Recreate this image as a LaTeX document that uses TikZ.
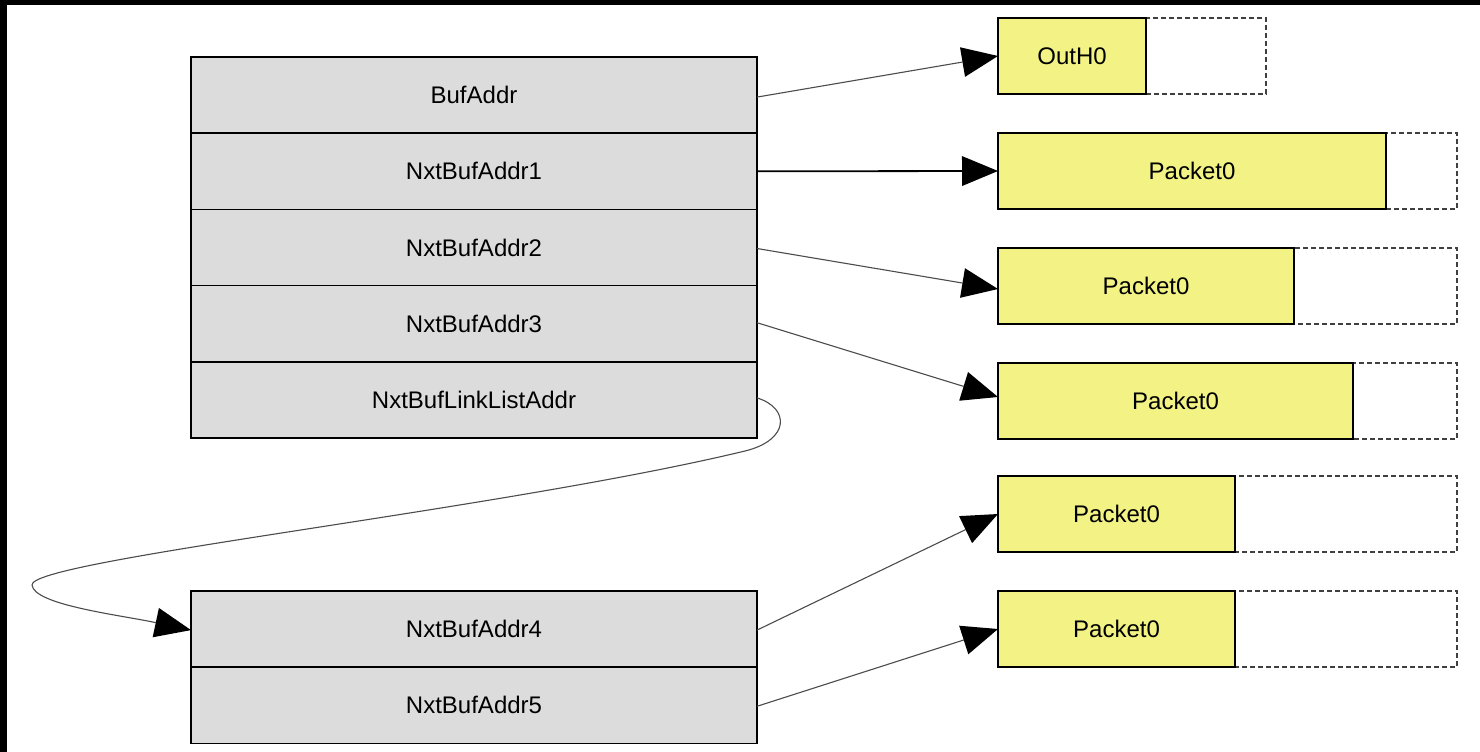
\documentclass[tikz,border=0pt]{standalone}
\usepackage{fontspec}
\setmainfont{Liberation Sans}
\usetikzlibrary{arrows.meta,positioning}
\definecolor{cellgray}{RGB}{220,220,220}
\definecolor{pktyellow}{RGB}{242,242,133}
\tikzset{
  cell/.style={draw=black, line width=1.6pt, fill=cellgray, minimum width=566pt,
    minimum height=76.2pt, inner sep=0pt, outer sep=0pt, anchor=north west,
    font=\fontsize{24}{28}\selectfont},
  pkt/.style={draw=black, line width=1.6pt, fill=pktyellow, minimum height=76pt,
    inner sep=0pt, outer sep=0pt, anchor=north west, font=\fontsize{24}{28}\selectfont},
  slack/.style={draw=black!75, line width=1.3pt, dash pattern=on 5pt off 3pt},
  headtip/.tip={Triangle[length=36pt,width=30pt,color=black,fill=black,line width=0pt]},
  ptr/.style={draw=black!70, line width=1.1pt, -headtip},
  ptrbold/.style={draw=black, line width=1.8pt, -headtip},
}
\begin{document}
\begin{tikzpicture}[x=1pt,y=-1pt]
% frame and page
\fill[black] (0,0) rectangle (1480,752);
\fill[white] (7,5) rectangle (1480,752);
\useasboundingbox (0,0) rectangle (1480,752);

% descriptor table
\node[cell] (buf)  at (191,57.0)  {BufAddr};
\node[cell] (nb1)  at (191,133.2) {NxtBufAddr1};
\node[cell] (nb2)  at (191,209.4) {NxtBufAddr2};
\node[cell] (nb3)  at (191,285.6) {NxtBufAddr3};
\node[cell] (link) at (191,361.8) {NxtBufLinkListAddr};

% linked descriptor table
\node[cell] (nb4) at (191,591.0) {NxtBufAddr4};
\node[cell] (nb5) at (191,667.2) {NxtBufAddr5};

% buffer slots (dashed outline = unused space)
\draw[slack] (998,18)  rectangle (1266,94);
\draw[slack] (998,133) rectangle (1457,209);
\draw[slack] (998,248) rectangle (1457,324);
\draw[slack] (998,363) rectangle (1457,439);
\draw[slack] (998,476) rectangle (1457,552);
\draw[slack] (998,591) rectangle (1457,667);

% filled part of each buffer
\node[pkt, minimum width=148pt] (p0) at (998,18)  {OutH0};
\node[pkt, minimum width=388pt] (p1) at (998,133) {Packet0};
\node[pkt, minimum width=296pt] (p2) at (998,248) {Packet0};
\node[pkt, minimum width=355pt] (p3) at (998,363) {Packet0};
\node[pkt, minimum width=237pt] (p4) at (998,476) {Packet0};
\node[pkt, minimum width=237pt] (p5) at (998,591) {Packet0};

% pointers to buffers
\draw[ptr]     ([yshift=-2pt]buf.east) -- (p0.west);
\draw[ptrbold] (nb1.east) -- (p1.west);
\draw[ptr]     ([yshift=-1pt]nb2.east) -- ([yshift=-3pt]p2.west);
\draw[ptr]     ([yshift=1pt]nb3.east) -- ([yshift=4pt]p3.west);
\draw[ptr]     ([yshift=-1pt]nb4.east) -- (p4.west);
\draw[ptr]     ([yshift=-1pt]nb5.east) -- (p5.west);

% link to the next descriptor table
\draw[ptr] ([yshift=2pt]link.east)
  .. controls (790,408) and (790,440) .. (745,451)
  .. controls (500,510) and (30,560) .. (32,585)
  .. controls (34,605) and (120,615) .. ([yshift=-1pt]nb4.west);
\end{tikzpicture}
\end{document}
